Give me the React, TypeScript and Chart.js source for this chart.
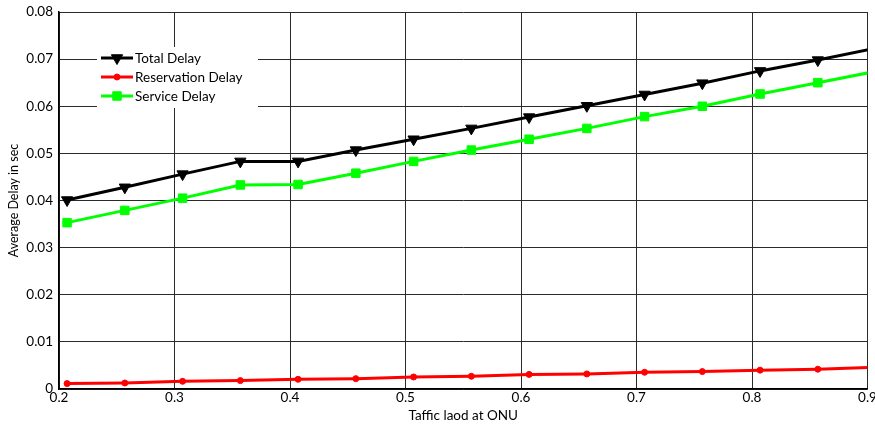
import React, { useEffect, useRef } from "react";
import { Chart, registerables } from "chart.js";

Chart.register(...registerables);

const loads = [0.207, 0.257, 0.307, 0.357, 0.407, 0.457, 0.507, 0.557, 0.607, 0.657, 0.707, 0.757, 0.807, 0.857, 0.907];
const totalDelay = [0.0401, 0.0428, 0.0456, 0.0483, 0.0483, 0.0507, 0.053, 0.0553, 0.0577, 0.0601, 0.0625, 0.0649, 0.0675, 0.0698, 0.0723];
const reservationDelay = [0.00115, 0.00127, 0.00163, 0.00178, 0.00206, 0.0022, 0.00255, 0.0027, 0.0031, 0.0032, 0.00355, 0.0037, 0.004, 0.0042, 0.0046];
const serviceDelay = [0.0353, 0.0379, 0.0405, 0.0433, 0.0434, 0.0458, 0.0483, 0.0507, 0.053, 0.0553, 0.0578, 0.06, 0.0626, 0.065, 0.0674];
const seriesNames = ["Total Delay", "Reservation Delay", "Service Delay"];
const xTitle = "Taffic laod at ONU";
const yTitle = "Average Delay in sec";

const FONT = "Lato, 'Open Sans', sans-serif";

function drawPointStyle(ctx: CanvasRenderingContext2D, style: string, r: number, x: number, y: number, rot: number) {
  ctx.beginPath();
  if (style === "triangle") {
    let rad = (rot * Math.PI) / 180;
    ctx.moveTo(x + Math.sin(rad) * r, y - Math.cos(rad) * r);
    rad += (2 * Math.PI) / 3;
    ctx.lineTo(x + Math.sin(rad) * r, y - Math.cos(rad) * r);
    rad += (2 * Math.PI) / 3;
    ctx.lineTo(x + Math.sin(rad) * r, y - Math.cos(rad) * r);
    ctx.closePath();
  } else if (style === "rect") {
    const s = Math.SQRT1_2 * r;
    ctx.rect(x - s, y - s, 2 * s, 2 * s);
  } else {
    ctx.arc(x, y, r, 0, Math.PI * 2);
  }
  ctx.fill();
  ctx.stroke();
}

const legendPlugin = {
  id: "boxLegend",
  afterDatasetsDraw(chart: any) {
    const { ctx } = chart;
    const bx = 97, by = 47, bw = 161, bh = 61;
    ctx.save();
    ctx.fillStyle = "#ffffff";
    ctx.fillRect(bx, by, bw, bh);
    chart.data.datasets.forEach((ds: any, i: number) => {
      const y = by + 11 + i * 19;
      ctx.strokeStyle = ds.borderColor;
      ctx.lineWidth = ds.borderWidth;
      ctx.beginPath();
      ctx.moveTo(bx + 4, y);
      ctx.lineTo(bx + 36, y);
      ctx.stroke();
      ctx.fillStyle = ds.pointBackgroundColor;
      ctx.strokeStyle = ds.pointBorderColor;
      ctx.lineWidth = 1;
      drawPointStyle(ctx, ds.pointStyle, ds.pointRadius, bx + 20, y, ds.pointRotation || 0);
      ctx.fillStyle = "#000";
      ctx.font = `13.5px ${FONT}`;
      ctx.textAlign = "left";
      ctx.textBaseline = "middle";
      ctx.fillText(ds.label, bx + 38, y + 1);
    });
    ctx.restore();
  },
};

export default function App() {
  const ref = useRef<HTMLCanvasElement | null>(null);
  useEffect(() => {
    if (!ref.current) return;
    const mk = (vals: number[]) => loads.map((x, i) => ({ x, y: vals[i] }));
    const chart = new Chart(ref.current, {
      type: "line",
      data: {
        datasets: [
          {
            label: seriesNames[0],
            data: mk(totalDelay),
            borderColor: "#000000",
            backgroundColor: "#000000",
            pointBackgroundColor: "#000000",
            pointBorderColor: "#000000",
            borderWidth: 3,
            pointStyle: "triangle",
            pointRotation: 180,
            pointRadius: 6.5,
            pointBorderWidth: 1,
          },
          {
            label: seriesNames[1],
            data: mk(reservationDelay),
            borderColor: "#ff0000",
            backgroundColor: "#ff0000",
            pointBackgroundColor: "#ff0000",
            pointBorderColor: "#ff0000",
            borderWidth: 3,
            pointStyle: "circle",
            pointRadius: 3,
            pointBorderWidth: 1,
          },
          {
            label: seriesNames[2],
            data: mk(serviceDelay),
            borderColor: "#00ff00",
            backgroundColor: "#00ff00",
            pointBackgroundColor: "#00ff00",
            pointBorderColor: "#00ff00",
            borderWidth: 3,
            pointStyle: "rect",
            pointRadius: 6,
            pointBorderWidth: 1,
          },
        ] as any,
      },
      options: {
        animation: false,
        responsive: false,
        maintainAspectRatio: false,
        layout: { padding: { top: 12, right: 6, left: 0, bottom: 0 } },
        plugins: { legend: { display: false }, tooltip: { enabled: false } },
        elements: { line: { tension: 0 } },
        scales: {
          x: {
            type: "linear",
            min: 0.2,
            max: 0.9,
            ticks: {
              stepSize: 0.1,
              color: "#000",
              font: { family: FONT, size: 13.5 },
              padding: 1,
              maxRotation: 0,
              autoSkip: false,
              callback: (v: any) => Number(v).toFixed(1),
            },
            grid: { color: "#2a2a2a", lineWidth: 1, drawTicks: false },
            border: { color: "#000", width: 1.5 },
            title: {
              display: true,
              text: xTitle,
              color: "#000",
              font: { family: FONT, size: 13.5 },
              padding: { top: 0, bottom: 3 },
            },
            afterFit: (s: any) => {
              s.height = 38;
              s.paddingLeft = 0;
              s.paddingRight = 0;
            },
          },
          y: {
            type: "linear",
            min: 0,
            max: 0.08,
            ticks: {
              stepSize: 0.01,
              color: "#000",
              font: { family: FONT, size: 13.5 },
              padding: 6,
              callback: (v: any) => (Number(v) === 0 ? "0" : Number(v).toFixed(2)),
            },
            grid: { color: "#2a2a2a", lineWidth: 1, drawTicks: false },
            border: { color: "#000", width: 1.5 },
            title: {
              display: true,
              text: yTitle,
              color: "#000",
              font: { family: FONT, size: 12.5 },
              padding: { top: 6, bottom: 0 },
            },
            afterFit: (s: any) => {
              s.width = 59;
              s.paddingTop = 0;
              s.paddingBottom = 0;
            },
          },
        },
      },
      plugins: [legendPlugin],
    });
    return () => chart.destroy();
  }, []);
  return (
    <div style={{ position: "fixed", left: 0, top: 0, width: 875, height: 427, background: "#fff" }}>
      <canvas ref={ref} width={875} height={427} style={{ display: "block" }} />
    </div>
  );
}
